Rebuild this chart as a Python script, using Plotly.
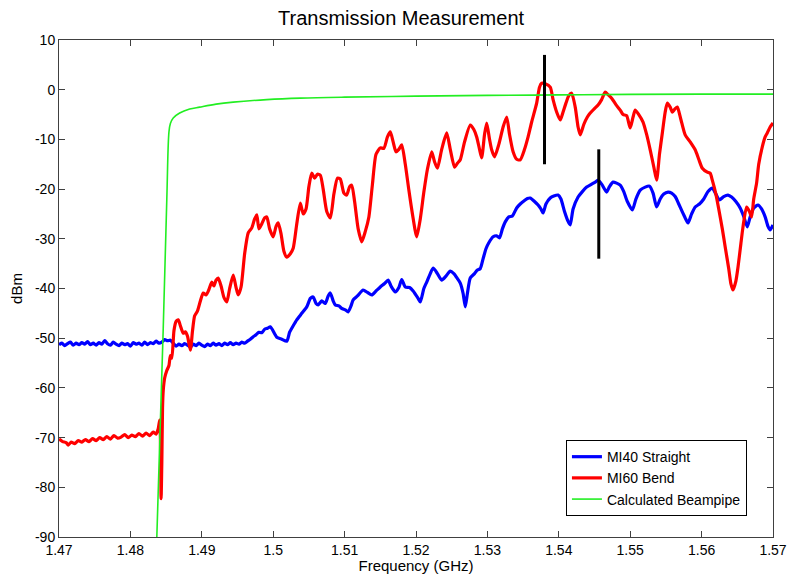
import plotly.graph_objects as go

# ---------------- data ----------------
blue_x = [1.4700, 1.4704, 1.4708, 1.4712, 1.4716, 1.4720, 1.4724, 1.4728, 1.4732, 1.4736,
          1.4740, 1.4744, 1.4748, 1.4752, 1.4756, 1.4760, 1.4764, 1.4768, 1.4772, 1.4776,
          1.4780, 1.4784, 1.4788, 1.4792, 1.4796, 1.4800, 1.4804, 1.4808, 1.4812, 1.4816,
          1.4820, 1.4824, 1.4828, 1.4832, 1.4836, 1.4840, 1.4844, 1.4848, 1.4852, 1.4856,
          1.4860, 1.4864, 1.4868, 1.4872, 1.4876, 1.4880, 1.4884, 1.4888, 1.4892, 1.4896,
          1.4900, 1.4904, 1.4908, 1.4912, 1.4916, 1.4920, 1.4924, 1.4928, 1.4932, 1.4936,
          1.4940, 1.4944, 1.4948, 1.4952, 1.4956, 1.4960, 1.4964, 1.4968, 1.4972, 1.4976,
          1.4980, 1.4984, 1.4988, 1.4992, 1.4996, 1.5005, 1.5012, 1.5019, 1.5023, 1.5028,
          1.5033, 1.5040, 1.5047, 1.5052, 1.5056, 1.5060, 1.5063, 1.5068, 1.5073, 1.5077,
          1.5080, 1.5084, 1.5087, 1.5092, 1.5096, 1.5101, 1.5105, 1.5109, 1.5112, 1.5118,
          1.5126, 1.5132, 1.5138, 1.5144, 1.5150, 1.5156, 1.5161, 1.5165, 1.5171, 1.5176,
          1.5180, 1.5185, 1.5191, 1.5196, 1.5203, 1.5206, 1.5211, 1.5215, 1.5220, 1.5224,
          1.5230, 1.5236, 1.5242, 1.5248, 1.5253, 1.5258, 1.5262, 1.5266, 1.5269, 1.5272,
          1.5276, 1.5282, 1.5286, 1.5290, 1.5294, 1.5298, 1.5302, 1.5308, 1.5313, 1.5317,
          1.5321, 1.5325, 1.5330, 1.5335, 1.5341, 1.5346, 1.5352, 1.5356, 1.5360, 1.5366,
          1.5371, 1.5375, 1.5378, 1.5382, 1.5388, 1.5393, 1.5399, 1.5403, 1.5408, 1.5413,
          1.5416, 1.5420, 1.5427, 1.5433, 1.5439, 1.5446, 1.5451, 1.5455, 1.5460, 1.5467,
          1.5471, 1.5476, 1.5481, 1.5486, 1.5491, 1.5496, 1.5503, 1.5508, 1.5514, 1.5521,
          1.5527, 1.5532, 1.5537, 1.5542, 1.5547, 1.5553, 1.5558, 1.5563, 1.5568, 1.5573,
          1.5577, 1.5581, 1.5586, 1.5591, 1.5597, 1.5603, 1.5609, 1.5615, 1.5620, 1.5625,
          1.5631, 1.5637, 1.5642, 1.5648, 1.5654, 1.5659, 1.5664, 1.5668, 1.5673, 1.5679,
          1.5684, 1.5689, 1.5693, 1.5696, 1.5700]
blue_y = [-51.3, -51.0, -51.5, -51.1, -50.8, -51.4, -51.0, -51.3, -50.9, -51.2,
          -50.7, -51.3, -51.0, -51.4, -50.9, -51.2, -50.5, -51.1, -51.4, -50.8,
          -51.2, -51.5, -51.0, -51.3, -51.1, -51.6, -50.9, -51.2, -51.0, -51.4,
          -50.8, -51.3, -50.9, -51.1, -50.6, -51.0, -50.8, -50.3, -50.5, -50.4,
          -51.0, -51.6, -51.2, -51.5, -51.1, -51.4, -51.8, -51.2, -51.5, -51.0,
          -51.4, -51.7, -51.2, -51.5, -51.0, -51.4, -51.1, -51.5, -51.0, -51.3,
          -50.9, -51.3, -51.0, -51.2, -50.8, -51.0, -50.6, -50.2, -49.7, -49.3,
          -48.8, -48.9, -48.2, -48.0, -47.7, -49.8, -50.2, -50.6, -48.8, -47.5,
          -46.3, -45.0, -43.7, -42.0, -41.7, -43.0, -43.3, -42.5, -43.0, -41.5,
          -40.9, -42.5, -43.3, -43.5, -44.0, -44.3, -44.7, -43.5, -42.3, -41.5,
          -40.3, -40.8, -41.3, -40.5, -39.7, -39.0, -38.3, -39.5, -40.7, -39.8,
          -38.2, -39.7, -39.8, -40.5, -42.0, -42.7, -40.0, -38.7, -37.0, -35.9,
          -37.0, -38.3, -37.5, -36.5, -37.0, -38.0, -38.9, -41.0, -43.7, -41.0,
          -37.9, -37.0, -36.3, -36.0, -34.0, -32.0, -30.8, -29.6, -29.4, -29.8,
          -28.0, -26.6, -25.6, -25.4, -23.8, -23.0, -22.3, -21.9, -21.8, -22.5,
          -23.2, -24.0, -24.8, -23.0, -21.8, -21.4, -21.2, -22.0, -24.5, -26.5,
          -27.2, -24.0, -21.6, -20.5, -19.6, -19.0, -18.6, -18.2, -19.0, -20.6,
          -19.5, -18.6, -18.8, -19.2, -20.5, -22.5, -24.2, -22.0, -20.2, -19.6,
          -19.4, -20.8, -23.6, -22.0, -21.0, -20.6, -20.8, -21.5, -23.0, -24.6,
          -25.8, -26.8, -25.0, -23.6, -23.0, -22.0, -20.5, -19.8, -21.0, -22.2,
          -21.5, -21.2, -21.6, -22.5, -23.8, -25.5, -27.6, -25.6, -23.8, -23.2,
          -24.0, -25.6, -27.5, -28.2, -27.2]

red_x = [1.4700, 1.4705, 1.4710, 1.4713, 1.4717, 1.4722, 1.4727, 1.4732, 1.4737, 1.4742,
         1.4747, 1.4752, 1.4757, 1.4762, 1.4767, 1.4772, 1.4777, 1.4782, 1.4787, 1.4792,
         1.4797, 1.4802, 1.4807, 1.4812, 1.4817, 1.4822, 1.4827, 1.4832, 1.4836, 1.4839,
         1.4841, 1.4842, 1.4843, 1.4844, 1.4845, 1.4846, 1.4848, 1.4851, 1.4854, 1.4856,
         1.4858, 1.4861, 1.4864, 1.4867, 1.4870, 1.4874, 1.4877, 1.4880, 1.4884, 1.4887,
         1.4890, 1.4894, 1.4898, 1.4902, 1.4906, 1.4910, 1.4914, 1.4917, 1.4920, 1.4923,
         1.4927, 1.4931, 1.4935, 1.4939, 1.4944, 1.4948, 1.4951, 1.4955, 1.4960, 1.4965,
         1.4970, 1.4974, 1.4977, 1.4980, 1.4984, 1.4988, 1.4991, 1.4995, 1.5000, 1.5004,
         1.5007, 1.5011, 1.5015, 1.5019, 1.5024, 1.5028, 1.5033, 1.5038, 1.5042, 1.5046,
         1.5050, 1.5054, 1.5058, 1.5062, 1.5066, 1.5070, 1.5075, 1.5080, 1.5085, 1.5090,
         1.5094, 1.5099, 1.5103, 1.5107, 1.5110, 1.5114, 1.5119, 1.5124, 1.5129, 1.5134,
         1.5139, 1.5144, 1.5150, 1.5155, 1.5160, 1.5164, 1.5168, 1.5172, 1.5176, 1.5180,
         1.5185, 1.5190, 1.5195, 1.5201, 1.5206, 1.5211, 1.5216, 1.5222, 1.5226, 1.5230,
         1.5236, 1.5243, 1.5248, 1.5254, 1.5258, 1.5262, 1.5268, 1.5276, 1.5281, 1.5285,
         1.5289, 1.5292, 1.5296, 1.5299, 1.5303, 1.5306, 1.5310, 1.5316, 1.5322, 1.5327,
         1.5331, 1.5336, 1.5341, 1.5346, 1.5352, 1.5357, 1.5362, 1.5369, 1.5373, 1.5376,
         1.5381, 1.5388, 1.5392, 1.5397, 1.5402, 1.5406, 1.5410, 1.5414, 1.5418, 1.5423,
         1.5427, 1.5430, 1.5435, 1.5440, 1.5444, 1.5450, 1.5455, 1.5460, 1.5465, 1.5469,
         1.5474, 1.5480, 1.5486, 1.5490, 1.5495, 1.5500, 1.5504, 1.5507, 1.5512, 1.5518,
         1.5523, 1.5528, 1.5533, 1.5537, 1.5541, 1.5545, 1.5549, 1.5552, 1.5556, 1.5559,
         1.5563, 1.5566, 1.5571, 1.5577, 1.5584, 1.5591, 1.5596, 1.5601, 1.5608, 1.5612,
         1.5615, 1.5620, 1.5624, 1.5629, 1.5633, 1.5638, 1.5641, 1.5644, 1.5648, 1.5651,
         1.5655, 1.5658, 1.5663, 1.5667, 1.5670, 1.5673, 1.5677, 1.5680, 1.5685, 1.5689,
         1.5692, 1.5696, 1.5700]
red_y = [-70.3, -70.8, -71.0, -71.5, -70.9, -71.2, -70.6, -70.9, -70.4, -70.8,
         -70.2, -70.6, -70.0, -70.4, -69.8, -70.3, -69.6, -70.1, -69.9, -69.4,
         -70.0, -69.5, -69.8, -69.2, -69.7, -69.1, -69.6, -68.9, -69.3, -68.2,
         -66.5, -70.0, -82.3, -75.0, -64.0, -60.5, -58.0, -56.5, -55.5, -53.5,
         -54.0, -48.5, -46.6, -46.3, -47.5, -49.0, -48.7, -49.6, -52.4, -48.5,
         -45.5, -44.5, -42.5, -40.9, -41.3, -40.2, -38.7, -39.5, -38.3, -37.9,
         -39.5, -41.8, -42.7, -40.0, -37.3, -39.8, -41.3, -39.7, -33.0, -28.8,
         -27.8, -26.0, -25.2, -28.0, -27.0, -25.8, -25.6, -28.0, -29.6, -27.5,
         -26.8, -29.0, -32.5, -33.7, -33.0, -31.9, -27.0, -22.8, -25.0, -24.0,
         -19.5, -16.8, -17.8, -17.0, -17.2, -20.0, -24.5, -25.8, -21.0, -17.8,
         -18.0, -20.8, -21.2, -19.5, -19.2, -22.5, -28.0, -30.6, -28.5, -25.6,
         -19.0, -13.0, -11.7, -11.8, -9.5, -8.5, -10.5, -12.5, -12.0, -11.1,
         -15.0, -20.2, -25.0, -29.6, -26.0, -20.6, -16.0, -12.5, -14.5, -15.8,
         -12.0, -8.7, -12.0, -15.6, -14.8, -14.1, -10.5, -7.1, -8.0, -9.5,
         -12.0, -13.7, -9.0, -6.7, -10.0, -12.1, -13.5, -11.0, -7.5, -5.5,
         -9.0, -12.5, -14.0, -14.1, -12.0, -9.5, -6.5, -2.7, 0.5, 1.3,
         1.2, 0.5, -2.0, -4.5, -6.1, -4.5, -2.7, -1.2, -0.7, -3.5,
         -7.5, -9.1, -7.0, -5.5, -4.7, -3.8, -3.1, -2.0, -0.5, -1.0,
         -1.7, -3.0, -4.1, -5.0, -5.2, -7.7, -5.5, -4.1, -5.0, -6.5,
         -9.0, -12.1, -15.5, -18.2, -13.0, -8.7, -4.5, -2.7, -3.5, -4.5,
         -3.8, -3.5, -6.0, -9.1, -10.5, -12.1, -14.0, -15.8, -16.6, -16.8,
         -18.2, -21.0, -24.0, -28.0, -31.6, -36.0, -39.0, -40.3, -38.5, -35.7,
         -31.0, -27.6, -23.6, -24.5, -25.6, -22.0, -18.8, -15.0, -11.5, -9.5,
         -8.7, -7.5, -6.7]

green_x = [1.4837, 1.4846, 1.4851, 1.4854, 1.4856, 1.4860, 1.4869, 1.4883, 1.4897, 1.4920,
           1.4944, 1.4991, 1.5038, 1.5100, 1.5200, 1.5300, 1.5400, 1.5500, 1.5600, 1.5700]
green_y = [-90.0, -48.0, -22.0, -8.5, -6.8, -5.7, -4.7, -3.9, -3.5, -2.9,
           -2.5, -2.0, -1.7, -1.5, -1.3, -1.15, -1.05, -0.95, -0.9, -0.9]

# vertical black marker lines (frequency, top dBm, bottom dBm)
marker_x = [1.5380, 1.5456]
marker_top = [7.0, -12.0]
marker_bottom = [-15.0, -34.0]

x_ticks = [1.47, 1.48, 1.49, 1.50, 1.51, 1.52, 1.53, 1.54, 1.55, 1.56, 1.57]
x_tick_text = ["1.47", "1.48", "1.49", "1.5", "1.51", "1.52", "1.53", "1.54", "1.55", "1.56", "1.57"]
y_ticks = [10, 0, -10, -20, -30, -40, -50, -60, -70, -80, -90]
y_tick_text = ["10", "0", "-10", "-20", "-30", "-40", "-50", "-60", "-70", "-80", "-90"]

# ---------------- figure ----------------
FONT = "Liberation Sans, Arial, Helvetica, sans-serif"
fig = go.Figure()
fig.add_trace(go.Scatter(x=blue_x, y=blue_y, mode="lines", name="MI40 Straight",
                         line=dict(color="#0000ff", width=3.2, shape="spline", smoothing=0.6)))
fig.add_trace(go.Scatter(x=red_x, y=red_y, mode="lines", name="MI60 Bend",
                         line=dict(color="#ff0000", width=3.2, shape="spline", smoothing=0.6)))
fig.add_trace(go.Scatter(x=green_x, y=green_y, mode="lines", name="Calculated Beampipe",
                         line=dict(color="#22ee22", width=1.6, shape="spline")))
for mx, mt, mb in zip(marker_x, marker_top, marker_bottom):
    fig.add_trace(go.Scatter(x=[mx, mx], y=[mt, mb], mode="lines", showlegend=False,
                             line=dict(color="black", width=3), hoverinfo="skip"))

axis_common = dict(showline=True, linecolor="#404040", linewidth=1, mirror="ticks",
                   ticks="inside", ticklen=6, tickcolor="#404040", showgrid=False,
                   zeroline=False, automargin=False,
                   tickfont=dict(size=14, color="black", family=FONT))

fig.update_layout(
    width=788, height=574,
    margin=dict(l=59, r=15, t=40, b=37),
    paper_bgcolor="white", plot_bgcolor="white",
    font=dict(family=FONT, color="black"),
    title=dict(text="Transmission Measurement", x=0.509, xref="container", xanchor="center",
               y=0.968, yref="container", yanchor="middle",
               font=dict(size=20, family=FONT, color="black")),
    xaxis=dict(range=[1.47, 1.57], tickvals=x_ticks, ticktext=x_tick_text,
               title=dict(text="Frequency (GHz)", standoff=0, font=dict(size=15)),
               **axis_common),
    yaxis=dict(range=[-90, 10], tickvals=y_ticks, ticktext=y_tick_text,
               title=dict(text="dBm", standoff=8, font=dict(size=15)),
               **axis_common),
    legend=dict(x=0.71, y=0.195, xanchor="left", yanchor="top",
                bgcolor="white", bordercolor="black", borderwidth=1,
                font=dict(size=14, family=FONT, color="black"),
                tracegroupgap=0),
    showlegend=True,
)

fig.write_html("out.html")
